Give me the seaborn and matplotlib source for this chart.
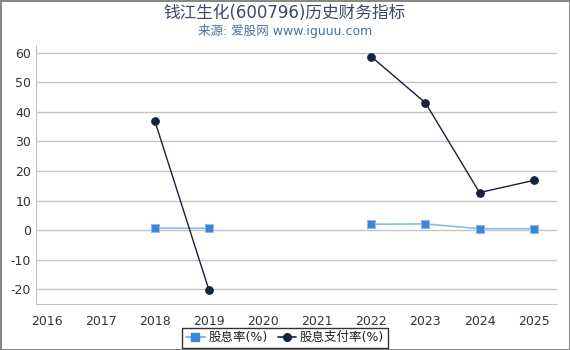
import numpy as np
import pandas as pd
import seaborn as sns
import matplotlib.pyplot as plt
from matplotlib.lines import Line2D

years = [2016, 2017, 2018, 2019, 2020, 2021, 2022, 2023, 2024, 2025]
dividend_yield = [np.nan, np.nan, 0.7, 0.6, np.nan, np.nan, 2.0, 2.1, 0.5, 0.5]
payout_ratio = [np.nan, np.nan, 36.8, -20.3, np.nan, np.nan, 58.6, 43.0, 12.7, 16.8]

yield_color = "#3b86d8"
yield_line = "#8fb8e6"
payout_color = "#15233b"


def segments(values):
    # split on NaN so gaps are not bridged
    seg, out, prev_nan = 0, [], True
    for v in values:
        if np.isnan(v):
            out.append(np.nan)
            prev_nan = True
        else:
            if prev_nan:
                seg += 1
            out.append(seg)
            prev_nan = False
    return out


def main():
    sns.set_style("white")
    plt.rcParams["font.family"] = ["DejaVu Sans", "Noto Sans CJK SC"]
    plt.rcParams["axes.unicode_minus"] = False

    df = pd.DataFrame({"year": years, "yield": dividend_yield, "payout": payout_ratio})
    df["seg_y"] = segments(dividend_yield)
    df["seg_p"] = segments(payout_ratio)

    fig = plt.figure(figsize=(5.7, 3.5), dpi=100)
    fig.patch.set_edgecolor("#888888")
    fig.patch.set_linewidth(2)
    ax = fig.add_axes([0.063, 0.131, 0.914, 0.74])

    dy = df.dropna(subset=["yield"])
    sns.lineplot(data=dy, x="year", y="yield", units="seg_y", estimator=None,
                 color=yield_color, marker="s", markersize=5.5, linewidth=1.2,
                 ax=ax)
    for ln in ax.lines:
        ln.set_color(yield_line)
        ln.set_markerfacecolor(yield_color)
        ln.set_markeredgecolor(yield_line)

    dp = df.dropna(subset=["payout"])
    sns.lineplot(data=dp, x="year", y="payout", units="seg_p", estimator=None,
                 color=payout_color, marker="o", markersize=5.5, linewidth=1.0,
                 markeredgecolor=payout_color, ax=ax)

    ax.set_xlim(2015.8, 2025.43)
    ax.set_ylim(-25, 62.5)
    ax.set_xticks(years)
    ax.set_yticks(range(-20, 61, 10))
    ax.yaxis.grid(True, color="#c4c4c4", linewidth=1)
    ax.set_xlabel("")
    ax.set_ylabel("")
    for s in ["top", "right"]:
        ax.spines[s].set_visible(False)
    ax.spines["left"].set_color("#c4c4c4")
    ax.spines["bottom"].set_color("#c4c4c4")
    ax.tick_params(axis="both", labelsize=9, colors="#333333")
    ax.tick_params(axis="x", length=4, color="#c4c4c4", direction="out", pad=4)
    ax.tick_params(axis="y", length=0)

    fig.text(0.5, 0.962, "钱江生化(600796)历史财务指标", ha="center", va="center",
             fontsize=12, color="#3a4a66")
    fig.text(0.5, 0.912, "来源: 爱股网 www.iguuu.com", ha="center", va="center",
             fontsize=9, color="#4d6f9c")

    handles = [
        Line2D([], [], color=yield_line, marker="s", markerfacecolor=yield_color,
               markeredgecolor=yield_color, markersize=5.5, linewidth=1.5),
        Line2D([], [], color=payout_color, marker="o", markersize=5.5, linewidth=1.2),
    ]
    leg = fig.legend(handles, ["股息率(%)", "股息支付率(%)"], loc="center",
                     bbox_to_anchor=(0.5, 0.035), ncol=2, fontsize=9,
                     frameon=True, fancybox=False, handlelength=1.5,
                     handletextpad=0.3, columnspacing=0.8, borderpad=0.3)
    leg.get_frame().set_edgecolor("black")
    leg.get_frame().set_linewidth(1)
    for t in leg.get_texts():
        t.set_color("#222222")

    fig.savefig("out.png", dpi=100)


if __name__ == "__main__":
    main()
